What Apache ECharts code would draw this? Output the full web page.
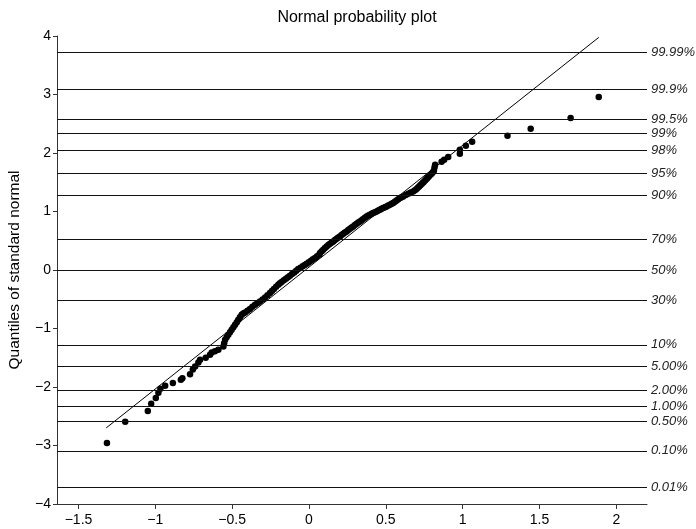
<!DOCTYPE html>
<html>
<head>
<meta charset="utf-8">
<script src="https://cdn.jsdelivr.net/npm/echarts@6/dist/echarts.min.js"></script>
<style>
html,body{margin:0;padding:0;background:#fff;}
#chart{width:696px;height:529px;}
</style>
</head>
<body>
<div id="chart"></div>
<script>
// Sample points (sorted data value vs. standard normal quantile)
var sampleX = [-1.315,-1.196,-1.049,-1.027,-0.997,-0.980,-0.967,-0.936,-0.886,-0.834,-0.824,-0.774,-0.756,-0.741,-0.720,
  -0.709,-0.672,-0.644,-0.633,-0.612,-0.590,-0.557,-0.552,-0.546,-0.536,-0.525,-0.514,-0.503,-0.492,-0.481,-0.470,-0.460,-0.449,-0.438,-0.428,-0.416,-0.400,-0.384,-0.368,-0.351,-0.335,-0.319,-0.302,-0.286,-0.270,-0.254,-0.241,-0.228,-0.214,-0.200,-0.189,-0.178,-0.164,-0.150,-0.137,-0.124,-0.110,-0.096,-0.083,-0.070,-0.055,-0.041,-0.028,-0.015,-0.001,0.013,0.026,0.039,0.053,0.067,
  0.072,0.083,0.093,0.104,0.115,0.126,0.137,0.148,0.158,0.169,0.180,0.191,0.202,0.212,0.223,0.234,0.245,0.256,0.267,0.278,0.288,0.299,0.310,0.321,0.332,0.343,0.353,0.364,0.375,0.386,0.397,0.408,0.418,0.429,0.440,0.451,0.462,0.472,0.483,0.494,0.505,0.516,0.527,0.538,0.548,0.559,0.570,0.581,0.592,
  0.603,0.613,0.630,0.646,0.662,0.678,0.690,0.700,0.708,0.717,0.725,0.733,0.741,0.748,0.757,0.765,0.772,0.780,0.789,0.798,0.806,0.813,0.817,0.821,0.863,0.880,0.906,0.982,0.982,1.021,1.062,1.292,1.443,1.703,1.886];
var sampleY = [-2.957,-2.593,-2.410,-2.285,-2.190,-2.100,-2.030,-1.980,-1.930,-1.875,-1.850,-1.780,-1.700,-1.650,-1.580,
  -1.533,-1.500,-1.448,-1.410,-1.390,-1.362,-1.306,-1.250,-1.191,-1.148,-1.106,-1.063,-1.021,-0.978,-0.935,-0.893,-0.850,-0.807,-0.764,-0.745,-0.725,-0.698,-0.667,-0.628,-0.593,-0.566,-0.537,-0.503,-0.468,-0.430,-0.393,-0.360,-0.325,-0.288,-0.251,-0.228,-0.205,-0.177,-0.149,-0.123,-0.097,-0.069,-0.041,-0.012,0.017,0.040,0.062,0.085,0.108,0.133,0.159,0.182,0.205,0.233,0.262,
  0.291,0.320,0.347,0.376,0.403,0.428,0.450,0.470,0.489,0.512,0.535,0.555,0.574,0.598,0.621,0.640,0.660,0.683,0.706,0.726,0.745,0.768,0.791,0.811,0.831,0.852,0.872,0.894,0.916,0.931,0.945,0.960,0.974,0.988,1.002,1.017,1.031,1.046,1.060,1.074,1.087,1.102,1.116,1.131,1.145,1.168,1.190,1.211,1.231,
  1.245,1.258,1.281,1.304,1.324,1.344,1.365,1.385,1.407,1.429,1.450,1.470,1.490,1.509,1.533,1.556,1.578,1.600,1.623,1.646,1.672,1.697,1.754,1.800,1.851,1.885,1.932,1.988,2.056,2.125,2.193,2.296,2.414,2.598,2.957];

// Reference line end points
var refLineX = [-1.32, 1.886];
var refLineY = [-2.70, 3.976];

// Probability reference levels (quantile of standard normal) and their labels
var probLevels = [-3.719,-3.090,-2.576,-2.326,-2.054,-1.645,-1.2816,-0.5244,0,0.5244,1.2816,1.645,2.054,2.326,2.576,3.090,3.719];
var probLabels = ['0.01%','0.10%','0.50%','1.00%','2.00%','5.00%','10%','30%','50%','70%','90%','95%','98%','99%','99.5%','99.9%','99.99%'];

// Axis ticks
var xTicks = [-1.5,-1,-0.5,0,0.5,1,1.5,2];
var yTicks = [-4,-3,-2,-1,0,1,2,3,4];

var FONT = '"Liberation Sans", Arial, Helvetica, sans-serif';
function fmt(v){ return String(v).replace('-', '\u2212'); }

var chart = echarts.init(document.getElementById('chart'), null, {renderer:'canvas'});
var scatterData = sampleX.map(function(x,i){ return [x, sampleY[i]]; });
var lineData = refLineX.map(function(x,i){ return [x, refLineY[i]]; });
var markData = probLevels.map(function(v,i){
  return {yAxis: v, label:{formatter: probLabels[i]}};
});

chart.setOption({
  animation:false,
  backgroundColor:'#fff',
  title:{
    text:'Normal probability plot',
    left:352, textAlign:'center', top:5,
    textStyle:{fontFamily:FONT, fontSize:16, fontWeight:'normal', color:'#000'}
  },
  grid:{left:57, right:49, top:36, bottom:25, containLabel:false, outerBoundsMode:'none'},
  xAxis:{
    type:'value', min:-1.64, max:2.2,
    axisLine:{show:true, onZero:false, lineStyle:{color:'#333', width:1}},
    axisTick:{show:true, length:5, customValues:xTicks, lineStyle:{color:'#333'}},
    axisLabel:{customValues:xTicks, formatter:fmt, margin:9, color:'#000', fontFamily:FONT, fontSize:14},
    splitLine:{show:false}
  },
  yAxis:{
    type:'value', min:yTicks[0], max:yTicks[yTicks.length-1], interval:1,
    name:'Quantiles of standard normal', nameLocation:'middle', nameGap:34,
    nameTextStyle:{fontFamily:FONT, fontSize:15.5, color:'#000'},
    axisLine:{show:true, onZero:false, lineStyle:{color:'#333', width:1}},
    axisTick:{show:true, length:4, lineStyle:{color:'#333'}},
    axisLabel:{formatter:fmt, margin:6, color:'#000', fontFamily:FONT, fontSize:14},
    splitLine:{show:false}
  },
  series:[
    {
      type:'line', data:[], silent:true, symbol:'none',
      markLine:{
        silent:true, symbol:['none','none'], animation:false,
        lineStyle:{color:'#111', width:1, type:'solid'},
        label:{show:true, position:'end', distance:4, color:'#222', fontFamily:FONT, fontSize:13, fontStyle:'italic'},
        emphasis:{disabled:true},
        data:markData
      }
    },
    {
      type:'line', data:lineData, symbol:'none', silent:true,
      lineStyle:{color:'#000', width:1}
    },
    {
      type:'scatter', data:scatterData, symbol:'circle', symbolSize:6.5, silent:true,
      itemStyle:{color:'#000', opacity:1}
    }
  ]
});
</script>
</body>
</html>
